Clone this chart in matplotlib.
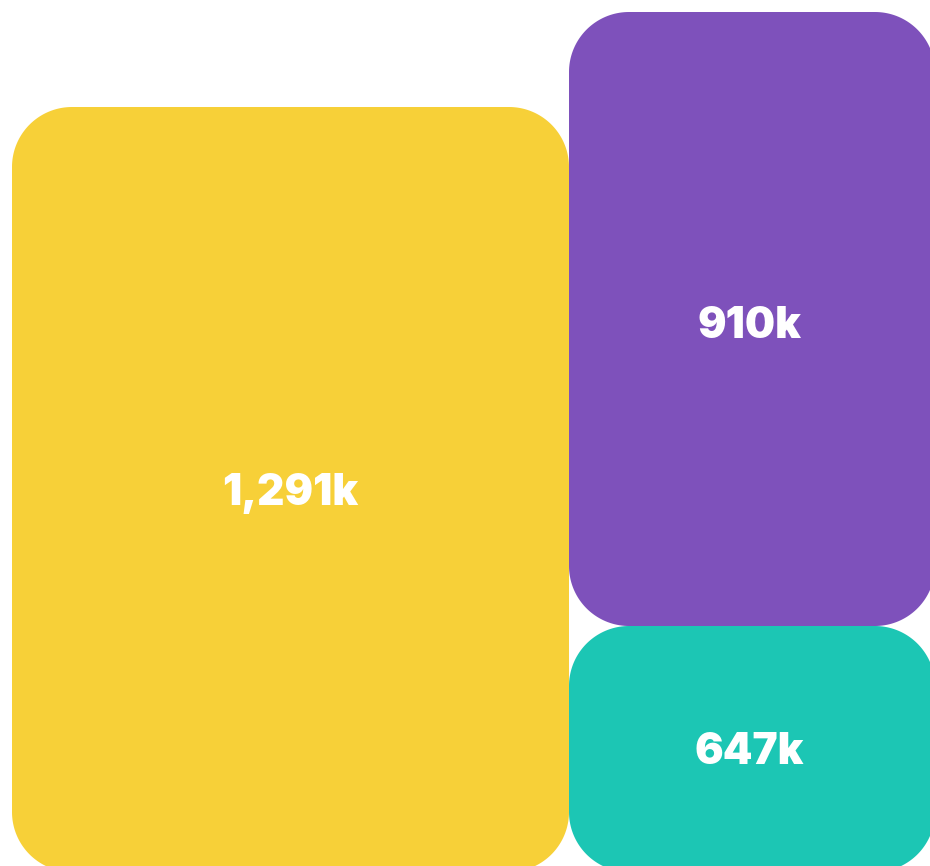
import numpy as np
import matplotlib.pyplot as plt
from matplotlib.patches import Polygon

# data
names = ["A", "B", "C"]
values = [1291, 910, 647]  # thousands
colors = ["#F7D038", "#7E51BB", "#1CC6B4"]

# layout of the tiles (x0, y0, x1, y1) in axes units, y grows downwards
split_x = 569
right_edge = 935
bottom = 872
tiles = [
    (12, 107, split_x, bottom),
    (split_x, 12, right_edge, 626),
    (split_x, 626, right_edge, bottom),
]
radius = 60


def rounded_rect(x0, y0, x1, y1, r, n=40):
    # corner centres and arc angles, going round the box
    corners = [
        (x1 - r, y0 + r, -90, 0),
        (x1 - r, y1 - r, 0, 90),
        (x0 + r, y1 - r, 90, 180),
        (x0 + r, y0 + r, 180, 270),
    ]
    pts = []
    for cx, cy, a0, a1 in corners:
        t = np.radians(np.linspace(a0, a1, n))
        pts += list(zip(cx + r * np.cos(t), cy + r * np.sin(t)))
    return pts


fig = plt.figure(figsize=(9.3, 8.66), dpi=100)
ax = fig.add_axes([0, 0, 1, 1])
ax.set_xlim(0, 930)
ax.set_ylim(866, 0)
ax.axis("off")

for val, col, (x0, y0, x1, y1) in zip(values, colors, tiles):
    ax.add_patch(Polygon(rounded_rect(x0, y0, x1, y1, radius),
                         closed=True, fc=col, ec="none"))
    # label in the middle of the visible part of the tile
    cx = (x0 + min(x1, 930)) / 2
    cy = (y0 + min(y1, 866)) / 2
    ax.text(cx, cy + 7, f"{val:,}k", color="white", fontsize=30.5,
            fontfamily=["Inter", "DejaVu Sans"], fontweight=900,
            ha="center", va="center")

fig.savefig("out.png", dpi=100)
